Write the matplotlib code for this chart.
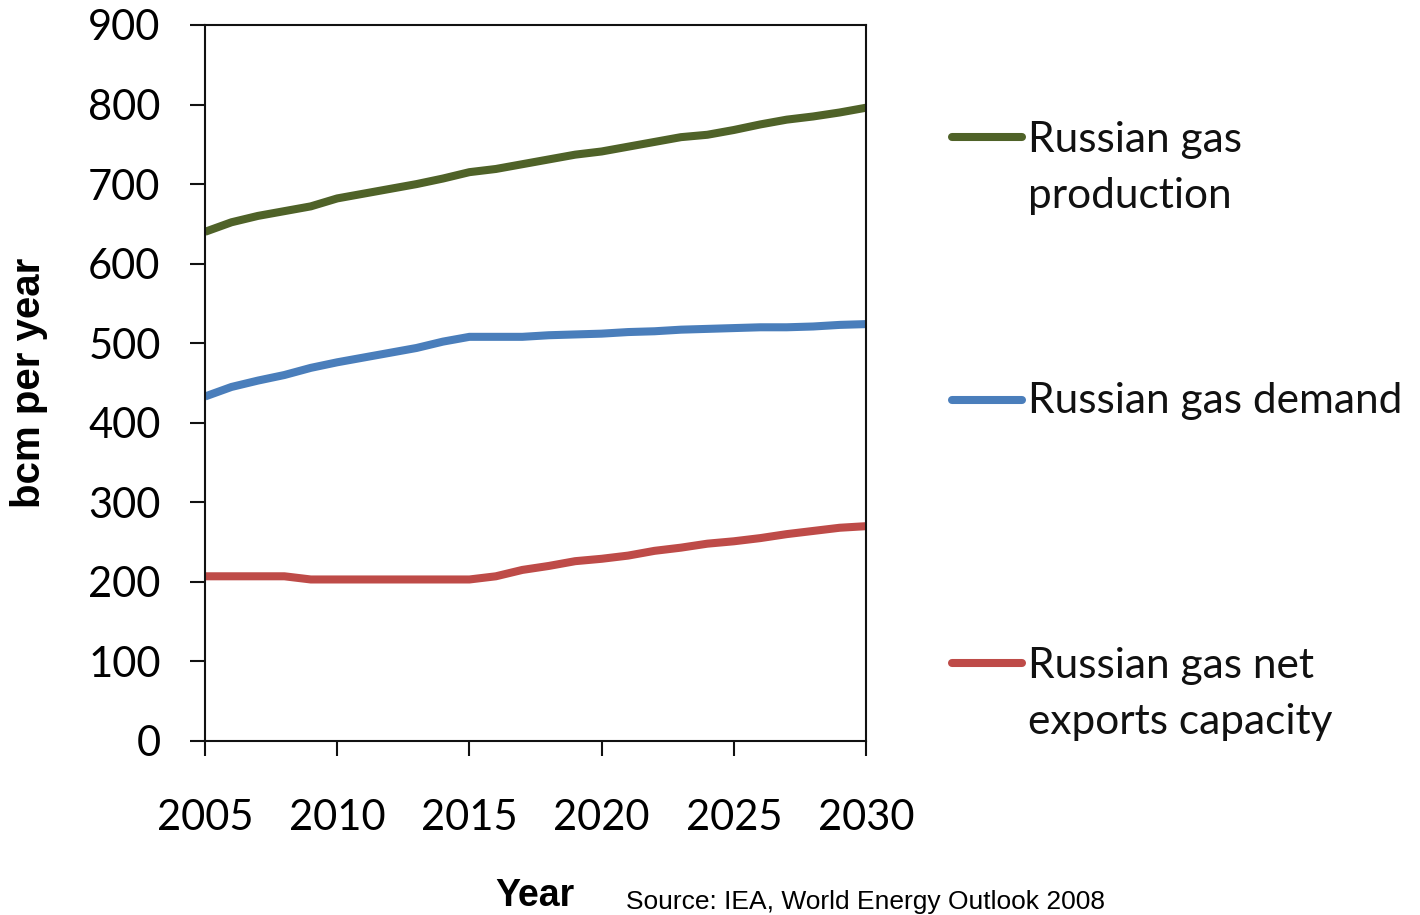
import matplotlib
matplotlib.use("Agg")
import matplotlib.pyplot as plt
from matplotlib.lines import Line2D

# data (bcm per year)
years = list(range(2005, 2031))
production = [640, 652, 660, 666, 672, 682, 688, 694, 700, 707, 715, 719, 725,
              731, 737, 741, 747, 753, 759, 762, 768, 775, 781, 785, 790, 796]
demand = [433, 445, 453, 460, 469, 476, 482, 488, 494, 502, 508, 508, 508,
          510, 511, 512, 514, 515, 517, 518, 519, 520, 520, 521, 523, 524]
exports = [207, 207, 207, 207, 203, 203, 203, 203, 203, 203, 203, 207, 215,
           220, 226, 229, 233, 239, 243, 248, 251, 255, 260, 264, 268, 270]

labels = ["Russian gas\nproduction", "Russian gas demand", "Russian gas net\nexports capacity"]
colors = ["#4F6228", "#4A7EBB", "#BE4B48"]
series = [production, demand, exports]

xticks = [2005, 2010, 2015, 2020, 2025, 2030]
yticks = list(range(0, 901, 100))

fig = plt.figure(figsize=(14.2, 9.15), dpi=100)
ax = fig.add_axes([0.1444, 0.1902, 0.4655, 0.7825])

for vals, c in zip(series, colors):
    ax.plot(years, vals, color=c, lw=5.8, solid_capstyle="butt")

ax.set_xlim(2005, 2030)
ax.set_ylim(0, 900)
ax.set_xticks(xticks)
ax.set_yticks(yticks)
for sp in ax.spines.values():
    sp.set_linewidth(1.5)
    sp.set_color("#111111")
ax.tick_params(axis="both", direction="out", length=11, width=1.5, color="#111111")
ax.tick_params(axis="y", pad=21)
ax.tick_params(axis="x", pad=31)
for lab in ax.get_xticklabels() + ax.get_yticklabels():
    lab.set_fontfamily("Lato")
    lab.set_fontsize(30)

ax.set_ylabel("bcm per year", family="Liberation Sans", fontweight="bold", fontsize=29)
ax.yaxis.set_label_coords(-0.2375, 0.5)

# x label and source note share the bottom line
fig.text(0.377, 1 - 906 / 915, "Year", family="Liberation Sans", fontweight="bold",
         fontsize=27, ha="center", va="baseline")
fig.text(0.4408, 1 - 909 / 915, "Source: IEA, World Energy Outlook 2008",
         family="Liberation Sans", fontsize=19, va="baseline")

# legend drawn by hand to match the spaced-out layout
handle_y = [0.8503, 0.5628, 0.2752]
base_y = [0.8339, 0.5486, 0.2590]
line_step = 56 / 915
for lab, c, hy, by in zip(labels, colors, handle_y, base_y):
    fig.add_artist(Line2D([0.6704, 0.7197], [hy, hy], color=c, lw=5.8,
                          solid_capstyle="round", transform=fig.transFigure))
    for i, part in enumerate(lab.split("\n")):
        fig.text(0.7240, by - i * line_step, part, family="Lato", fontsize=30.5,
                 va="baseline", color="#111111")

fig.savefig("out.png", dpi=100)
